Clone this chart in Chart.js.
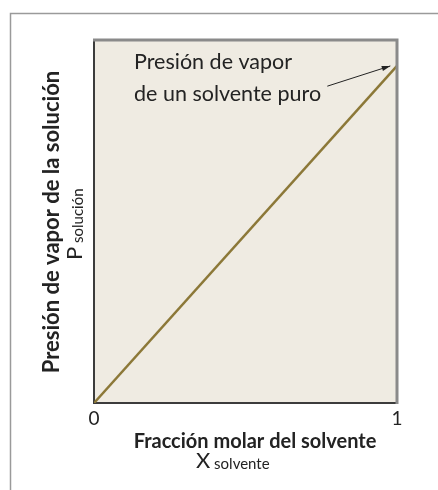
<!DOCTYPE html>
<html>
<head>
<meta charset="utf-8">
<script src="https://cdn.jsdelivr.net/npm/chart.js@4.4.0/dist/chart.umd.min.js"></script>
<style>
  html, body { margin: 0; padding: 0; background: #fff; }
  #wrap { position: relative; width: 438px; height: 490px; }
</style>
</head>
<body>
<div id="wrap"><canvas id="myChart" width="438" height="490"></canvas></div>
<script>
// fracción molar del solvente vs presión de vapor (relativa a la del solvente puro)
var xValues = [0, 1];
var yValues = [0, 1];
var tickLabels = ["0", "1"];
var xTitle = "Fracción molar del solvente";
var yTitle = "Presión de vapor de la solución";
var xSymbol = ["X", "solvente"];
var ySymbol = ["P", "solución"];
var noteLines = ["Presión de vapor", "de un solvente puro"];

var fontFam = "Lato, 'Open Sans', sans-serif";
var ink = "#232323";

// symbol with subscript, drawn from (x, y) along the current direction
function drawSub(c, parts, x, y) {
	c.font = "22px " + fontFam;
	c.fillText(parts[0], x, y);
	var w = c.measureText(parts[0]).width;
	c.font = "15px " + fontFam;
	c.fillText(" " + parts[1], x + w, y + 1);
}

var framePlugin = {
	id: "frame",
	beforeDraw: function(chart) {
		var c = chart.ctx, a = chart.chartArea;
		c.save();
		c.fillStyle = "#fff";
		c.fillRect(0, 0, chart.width, chart.height);
		// outer frame
		c.strokeStyle = "#9a9a9a";
		c.lineWidth = 1.5;
		c.beginPath();
		c.moveTo(10.5, chart.height);
		c.lineTo(10.5, 13.5);
		c.lineTo(chart.width, 13.5);
		c.stroke();
		// plot background
		c.fillStyle = "#efebe2";
		c.fillRect(a.left, a.top, a.right - a.left, a.bottom - a.top);
		c.restore();
	},
	afterDraw: function(chart) {
		var c = chart.ctx, a = chart.chartArea;
		var xs = chart.scales.x, ys = chart.scales.y;
		c.save();
		// top and right edge
		c.strokeStyle = "#8a8a8a";
		c.lineWidth = 3;
		c.beginPath();
		c.moveTo(a.left - 1, a.top);
		c.lineTo(a.right, a.top);
		c.lineTo(a.right, a.bottom + 1);
		c.stroke();

		c.fillStyle = ink;
		c.textBaseline = "alphabetic";

		// x title + symbol
		c.textAlign = "center";
		c.font = "bold 20px " + fontFam;
		c.fillText(xTitle, 255, 448);
		c.textAlign = "left";
		drawSub(c, xSymbol, 196, 468);

		// y title + symbol
		c.save();
		c.translate(59, 222);
		c.rotate(-Math.PI / 2);
		c.textAlign = "center";
		c.font = "bold 22px " + fontFam;
		c.fillText(yTitle, 0, 0);
		c.restore();
		c.save();
		c.translate(82, 260);
		c.rotate(-Math.PI / 2);
		c.textAlign = "left";
		drawSub(c, ySymbol, 0, 0);
		c.restore();

		// note with arrow
		c.font = "21.5px " + fontFam;
		c.textAlign = "left";
		c.fillText(noteLines[0], 134, 69);
		c.fillText(noteLines[1], 134, 101);
		var x0 = xs.getPixelForValue(0.77), y0 = ys.getPixelForValue(0.94);
		var x1 = xs.getPixelForValue(0.978), y1 = ys.getPixelForValue(1.0);
		c.strokeStyle = ink;
		c.lineWidth = 1;
		c.beginPath();
		c.moveTo(x0, y0);
		c.lineTo(x1, y1);
		c.stroke();
		var ang = Math.atan2(y1 - y0, x1 - x0);
		c.beginPath();
		c.moveTo(x1, y1);
		c.lineTo(x1 - 9 * Math.cos(ang - 0.3), y1 - 9 * Math.sin(ang - 0.3));
		c.lineTo(x1 - 9 * Math.cos(ang + 0.3), y1 - 9 * Math.sin(ang + 0.3));
		c.closePath();
		c.fill();
		c.restore();
	}
};

new Chart("myChart", {
	type: "line",
	data: {
		datasets: [{
			data: xValues.map(function(x, i) { return {x: x, y: yValues[i]}; }),
			borderColor: "#8c7838",
			borderWidth: 2.5,
			pointRadius: 0,
			fill: false
		}]
	},
	options: {
		responsive: false,
		animation: false,
		events: [],
		layout: { padding: { top: 40, right: 41, left: 0, bottom: 0 } },
		plugins: { legend: { display: false }, tooltip: { enabled: false } },
		scales: {
			x: {
				type: "linear",
				min: 0,
				max: 1,
				afterFit: function(s) { s.height = 87; },
				grid: { display: false, drawTicks: false },
				border: { display: true, color: "#3c3c3c", width: 2 },
				ticks: {
					stepSize: 1,
					padding: 4,
					color: ink,
					font: { family: fontFam, size: 19 },
					callback: function(v) { return v === 0 ? tickLabels[0] : (v === 1 ? tickLabels[1] : ""); }
				}
			},
			y: {
				type: "linear",
				min: 0,
				max: 1.077,
				afterFit: function(s) { s.width = 94; },
				grid: { display: false, drawTicks: false },
				border: { display: true, color: "#3c3c3c", width: 2 },
				ticks: { display: false }
			}
		}
	},
	plugins: [framePlugin]
});
</script>
</body>
</html>
